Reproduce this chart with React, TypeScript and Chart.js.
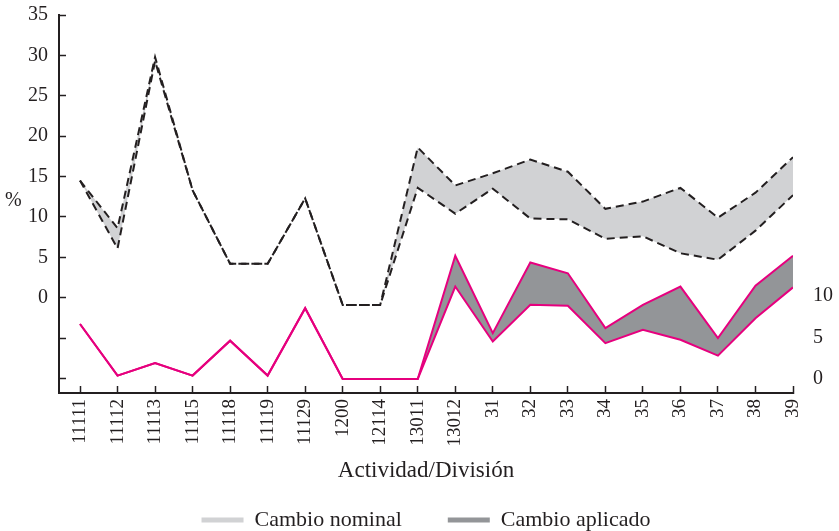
import React, { useEffect, useRef } from "react";
import { Chart, registerables } from "chart.js";

Chart.register(...registerables);

const categories = ["11111", "11112", "11113", "11115", "11118", "11119", "11129", "1200", "12114", "13011", "13012", "31", "32", "33", "34", "35", "36", "37", "38", "39"];
const nominalUpper = [14.5, 8.6, 29.8, 13.3, 4.2, 4.2, 12.3, -0.9, -0.9, 18.6, 13.9, 15.4, 17.1, 15.6, 11.0, 11.9, 13.6, 9.9, 13.0, 17.4];
const nominalLower = [14.5, 6.1, 29.3, 13.3, 4.2, 4.2, 12.3, -0.9, -0.9, 13.6, 10.4, 13.5, 9.8, 9.7, 7.3, 7.6, 5.5, 4.7, 8.3, 12.7];
const aplicadoUpper = [6.6, 0.4, 1.9, 0.4, 4.6, 0.4, 8.5, 0, 0, 0, 14.8, 5.5, 14.0, 12.7, 6.1, 8.9, 11.1, 4.9, 11.2, 14.8];
const aplicadoLower = [6.6, 0.4, 1.9, 0.4, 4.6, 0.4, 8.5, 0, 0, 0, 11.1, 4.5, 8.9, 8.8, 4.3, 5.9, 4.7, 2.8, 7.3, 11.0];
const leftTicks = [-10, -5, 0, 5, 10, 15, 20, 25, 30, 35];
const rightTicks = [0, 5, 10];

const INK = "#231f20";
const LIGHT = "#d1d2d4";
const DARK = "#939598";
const PINK = "#e6007e";
const FONT = "'Liberation Serif', 'Times New Roman', serif";

const toPts = (arr: number[]) => arr.map((v, i) => ({ x: i, y: v }));

export default function App() {
  const ref = useRef<HTMLCanvasElement | null>(null);
  useEffect(() => {
    if (!ref.current) return;
    const percentPlugin = {
      id: "percentLabel",
      afterDraw(chart: any) {
        const ctx = chart.ctx;
        ctx.save();
        ctx.font = `20px ${FONT}`;
        ctx.fillStyle = INK;
        ctx.textAlign = "left";
        ctx.textBaseline = "middle";
        ctx.fillText("%", 5, 201);
        ctx.restore();
      },
    };
    const chart = new Chart(ref.current, {
      type: "line",
      data: {
        datasets: [
          {
            label: "Cambio nominal",
            data: toPts(nominalUpper),
            borderColor: INK,
            borderWidth: 2,
            borderDash: [8, 5],
            pointRadius: 0,
            fill: false,
            yAxisID: "y",
          },
          {
            label: "Cambio nominal (inferior)",
            data: toPts(nominalLower),
            borderColor: INK,
            borderWidth: 2,
            borderDash: [8, 5],
            pointRadius: 0,
            backgroundColor: LIGHT,
            fill: "-1",
            yAxisID: "y",
          },
          {
            label: "Cambio aplicado",
            data: toPts(aplicadoUpper),
            borderColor: PINK,
            borderWidth: 2,
            pointRadius: 0,
            fill: false,
            yAxisID: "y2",
          },
          {
            label: "Cambio aplicado (inferior)",
            data: toPts(aplicadoLower),
            borderColor: PINK,
            borderWidth: 2,
            pointRadius: 0,
            backgroundColor: DARK,
            fill: "-1",
            yAxisID: "y2",
          },
        ],
      },
      options: {
        animation: false,
        responsive: true,
        maintainAspectRatio: false,
        layout: { padding: { top: 15, left: 0, right: 0, bottom: -10 } },
        plugins: {
          tooltip: { enabled: false },
          legend: {
            position: "bottom",
            fullSize: false,
            labels: {
              font: { family: FONT, size: 22 },
              color: INK,
              boxWidth: 42,
              boxHeight: 5,
              padding: 46,
              generateLabels: () => [
                { text: "Cambio nominal", fillStyle: LIGHT, strokeStyle: LIGHT, lineWidth: 0, hidden: false, datasetIndex: 1, fontColor: INK },
                { text: "Cambio aplicado", fillStyle: DARK, strokeStyle: DARK, lineWidth: 0, hidden: false, datasetIndex: 3, fontColor: INK },
              ],
            },
          },
        },
        scales: {
          x: {
            type: "linear",
            min: -0.56,
            max: 19,
            afterBuildTicks: (s: any) => {
              s.ticks = categories.map((_, i) => ({ value: i }));
            },
            afterFit: (s: any) => {
              s.height = 70;
            },
            ticks: {
              callback: (v: any) => categories[Number(v)] ?? "",
              minRotation: 90,
              maxRotation: 90,
              autoSkip: false,
              font: { family: FONT, size: 19 },
              color: INK,
              padding: 13,
            },
            grid: { drawOnChartArea: false, tickLength: -7, color: INK, tickColor: INK, tickWidth: 1.5 },
            border: { color: INK, width: 2 },
            title: {
              display: true,
              text: "Actividad/División",
              font: { family: FONT, size: 23 },
              color: INK,
              padding: { top: 0, bottom: -22 },
            },
          },
          y: {
            position: "left",
            min: -11.8,
            max: 35,
            afterBuildTicks: (s: any) => {
              s.ticks = leftTicks.map((v) => ({ value: v }));
            },
            afterFit: (s: any) => {
              s.width = 59;
              s.paddingTop = 0;
              s.paddingBottom = 0;
            },
            ticks: {
              callback: (v: any) => (Number(v) < 0 ? "" : String(v)),
              font: { family: FONT, size: 20 },
              color: INK,
              padding: 18,
            },
            grid: { drawOnChartArea: false, tickLength: -7, color: INK, tickColor: INK, tickWidth: 1.5 },
            border: { color: INK, width: 2 },
          },
          y2: {
            position: "right",
            min: -1.69,
            max: 43.73,
            afterBuildTicks: (s: any) => {
              s.ticks = rightTicks.map((v) => ({ value: v }));
            },
            afterFit: (s: any) => {
              s.width = 46;
              s.paddingTop = 0;
              s.paddingBottom = 0;
            },
            ticks: {
              font: { family: FONT, size: 20 },
              color: INK,
              padding: 20,
            },
            grid: { drawOnChartArea: false, drawTicks: false },
            border: { display: false },
          },
        },
      },
      plugins: [percentPlugin],
    });
    return () => chart.destroy();
  }, []);
  return (
    <div style={{ position: "fixed", left: 0, top: 0, width: 839, height: 531 }}>
      <canvas ref={ref} />
    </div>
  );
}
